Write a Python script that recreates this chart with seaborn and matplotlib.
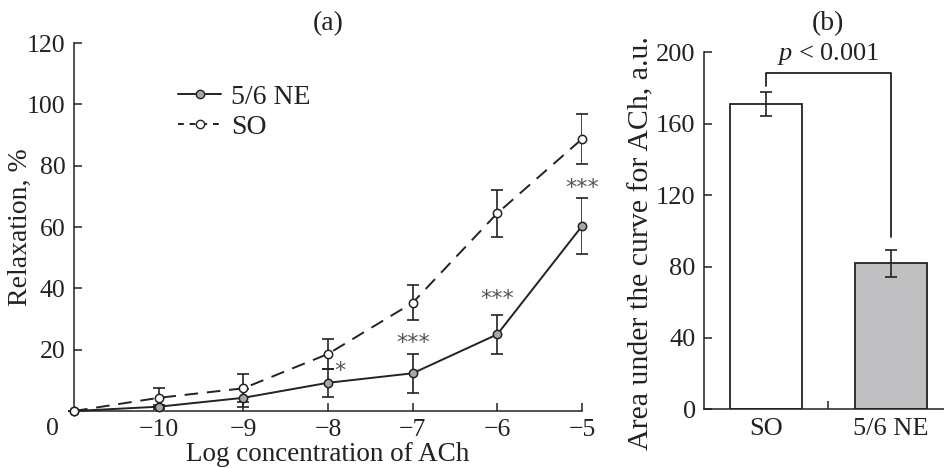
import matplotlib
matplotlib.use("Agg")
import matplotlib.pyplot as plt
import seaborn as sns
import numpy as np
import pandas as pd
from matplotlib.lines import Line2D

# panel (a): relaxation vs log concentration of ACh (-11 stands for zero concentration)
log_conc = [-11, -10, -9, -8, -7, -6, -5]
ne_mean = [0, 1.4, 4.3, 9.2, 12.3, 25.0, 60.3]
ne_err = [0, 0.6, 3.0, 4.5, 6.3, 6.4, 9.0]
so_mean = [0, 4.3, 7.4, 18.6, 35.3, 64.5, 88.7]
so_err = [0, 3.1, 4.6, 5.0, 5.7, 7.6, 8.0]
x_ticks = [-10, -9, -8, -7, -6, -5]
y_ticks_a = [20, 40, 60, 80, 100, 120]
stars = [(-7.86, 13.0, "*"), (-7, 22.3, "***"), (-6, 36.6, "***"), (-5, 72.6, "***")]

# panel (b): area under the curve
groups = ["SO", "5/6 NE"]
auc_mean = [170.9, 81.8]
auc_err = [6.7, 7.6]
y_ticks_b = [0, 40, 80, 120, 160, 200]

sns.set_theme(style="ticks")
plt.rcParams["font.family"] = ["Liberation Serif", "DejaVu Serif"]
plt.rcParams["mathtext.fontset"] = "custom"
plt.rcParams["mathtext.rm"] = "Liberation Serif"
plt.rcParams["mathtext.it"] = "Liberation Serif:italic"
plt.rcParams["axes.unicode_minus"] = True

dark = "#222222"
fs = 18.5

fig = plt.figure(figsize=(9.45, 4.68), dpi=100)
ax = fig.add_axes([74 / 945, 1 - 411 / 468, 508 / 945, 368 / 468])
axb = fig.add_axes([704 / 945, 1 - 409.3 / 468, 241 / 945, 357 / 468])

# ---- panel (a)
df = pd.DataFrame({
    "x": log_conc * 2,
    "y": ne_mean + so_mean,
    "group": ["5/6 NE"] * len(log_conc) + ["SO"] * len(log_conc),
})
ax.errorbar(log_conc, ne_mean, yerr=ne_err, fmt="none", ecolor=dark, elinewidth=1.2,
            capsize=4, capthick=1.2, zorder=2)
ax.errorbar(log_conc, so_mean, yerr=so_err, fmt="none", ecolor=dark, elinewidth=1.2,
            capsize=4, capthick=1.2, zorder=2)
sns.lineplot(data=df[df.group == "SO"], x="x", y="y", ax=ax, color=dark, lw=1.4,
             marker="o", markersize=6, markerfacecolor="white", markeredgecolor=dark,
             markeredgewidth=1.1, dashes=False, legend=False, zorder=3)
ax.lines[-1].set_dashes((7, 4.5))
sns.lineplot(data=df[df.group == "5/6 NE"], x="x", y="y", ax=ax, color=dark, lw=1.4,
             marker="o", markersize=6, markerfacecolor="#a8a8a8", markeredgecolor=dark,
             markeredgewidth=1.1, legend=False, zorder=4)
for ln in ax.lines:
    ln.set_clip_on(False)
# keep the white zero-concentration marker on top
ax.lines[-2].set_zorder(5)

for sx, sy, s in stars:
    ax.text(sx, sy, s, ha="center", va="center", fontsize=16, color="#555555",
            family="DejaVu Sans")

ax.set_xlim(-11, -5)
ax.set_ylim(0, 120)
ax.set_xticks(x_ticks)
ax.set_yticks(y_ticks_a)
ax.tick_params(direction="in", length=6, width=1.1, labelsize=fs, color=dark,
               labelcolor=dark, pad=6)
ax.text(-0.03, -0.05, "0", transform=ax.transAxes, ha="right", va="center",
        fontsize=fs, color=dark)
for s in ["top", "right"]:
    ax.spines[s].set_visible(False)
for s in ["left", "bottom"]:
    ax.spines[s].set_color(dark)
    ax.spines[s].set_linewidth(1.1)
ax.set_xlabel("Log concentration of ACh", fontsize=19.5, color=dark)
ax.set_ylabel("Relaxation, %", fontsize=20, color=dark)
ax.xaxis.set_label_coords(0.5, -0.085)
ax.yaxis.set_label_coords(-0.08, 0.5)

handles = [
    Line2D([], [], color=dark, lw=1.4, marker="o", markersize=6,
           markerfacecolor="#a8a8a8", markeredgecolor=dark),
    Line2D([], [], color=dark, lw=1.4, ls=(0, (3, 3)), marker="o", markersize=6,
           markerfacecolor="white", markeredgecolor=dark),
]
ax.legend(handles, ["5/6 NE", "SO"], loc="upper left", bbox_to_anchor=(0.178, 0.925),
          frameon=False, fontsize=20, handlelength=1.55, handletextpad=0.35,
          labelspacing=0.15, borderpad=0, labelcolor=dark)

fig.text(328 / 945, 1 - 24 / 468, "(a)", ha="center", va="center", fontsize=20, color=dark)

# ---- panel (b)
sns.barplot(x=groups, y=auc_mean, hue=groups, palette=["white", "#bfc0c4"],
            edgecolor=dark, linewidth=1.3, width=0.575, legend=False, ax=axb)
axb.errorbar([0, 1], auc_mean, yerr=auc_err, fmt="none", ecolor=dark, elinewidth=1.2,
             capsize=4, capthick=1.2)
axb.plot([0, 0, 1, 1], [181.3, 188.2, 188.2, 96.7], color=dark, lw=1.3, clip_on=False)
axb.text(0.5, 191.5, r"$p$ < 0.001", ha="center", va="bottom", fontsize=19, color=dark)

axb.set_xlim(-0.5, 1.436)
axb.set_ylim(0, 200)
axb.set_xticks([0, 0.5, 1])
axb.set_xticklabels(["SO", "", "5/6 NE"])
axb.set_yticks(y_ticks_b)
axb.tick_params(direction="in", length=6, width=1.1, labelsize=19, color=dark,
                labelcolor=dark, pad=6)
for s in ["top", "right"]:
    axb.spines[s].set_visible(False)
for s in ["left", "bottom"]:
    axb.spines[s].set_color(dark)
    axb.spines[s].set_linewidth(1.1)
axb.set_xlabel("")
axb.set_ylabel("Area under the curve for ACh, a.u.", fontsize=21.5, color=dark)
axb.yaxis.set_label_coords(-0.205, 0.465)

fig.text(828 / 945, 1 - 24 / 468, "(b)", ha="center", va="center", fontsize=20, color=dark)

fig.savefig("out.png", dpi=100)
